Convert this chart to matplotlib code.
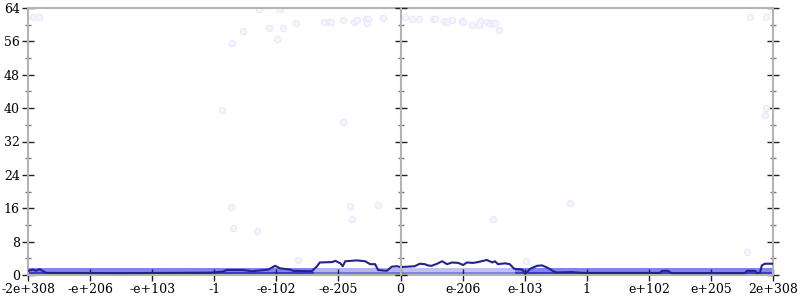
import matplotlib
matplotlib.use("Agg")
import matplotlib.pyplot as plt
import numpy as np

# x positions are in "tick units": -6 .. 6 map to -2e+308 .. 2e+308
tick_pos = [-6, -5, -4, -3, -2, -1, 0, 1, 2, 3, 4, 5, 6]
tick_labels = ["-2e+308", "-e+206", "-e+103", "-1", "-e-102", "-e-205", "0",
               "e-206", "e-103", "1", "e+102", "e+205", "2e+308"]
y_ticks = [0, 8, 16, 24, 32, 40, 48, 56, 64]

# median line
line_x = [-6.0, -5.92, -5.87, -5.81, -5.76, -5.7, -4.5, -3.07, -2.86, -2.80, -2.54, -2.39,
          -2.26, -2.13, -2.02, -1.94, -1.78, -1.73, -1.43, -1.35, -1.30, -1.10, -1.05,
          -0.97, -0.93, -0.89, -0.70, -0.57, -0.49, -0.41, -0.36, -0.22, -0.14, -0.06,
          0.0, 0.23, 0.31, 0.39, 0.44, 0.50, 0.59, 0.67, 0.75, 0.83, 0.93, 1.01, 1.07,
          1.17, 1.25, 1.39, 1.48, 1.52, 1.57, 1.68, 1.76, 1.83, 1.96, 2.01, 2.09, 2.20,
          2.28, 2.36, 2.41, 2.46, 2.52, 2.76, 2.92, 4.18, 4.21, 4.31, 4.36, 5.55, 5.58,
          5.71, 5.74, 5.79, 5.82, 5.87, 6.0]
line_y = [1.0, 1.3, 1.0, 1.4, 0.9, 0.5, 0.45, 0.55, 0.8, 1.2, 1.2, 0.9,
          1.1, 1.3, 2.2, 1.6, 1.3, 1.0, 0.9, 2.0, 3.0, 3.1, 3.4,
          2.8, 2.1, 3.3, 3.5, 3.3, 2.6, 2.6, 1.2, 1.0, 2.0, 2.1,
          1.9, 2.1, 2.7, 2.6, 2.3, 2.2, 2.7, 3.3, 2.6, 3.0, 2.9, 2.4, 3.0,
          2.9, 3.1, 3.6, 3.0, 3.3, 2.6, 2.8, 2.6, 1.5, 1.3, 0.3, 1.5, 2.2,
          2.3, 1.8, 1.4, 0.9, 0.6, 0.7, 0.5, 0.5, 1.0, 1.0, 0.45, 0.45, 1.0,
          1.0, 0.5, 0.5, 2.3, 2.7, 2.7]

# dense band of samples near the bottom (segments)
band_start = [-6.0, -1.4, 0.0, 1.85]
band_end = [-1.4, 0.0, 1.85, 6.0]
band_top = [1.6, 1.6, 1.6, 1.6]
band_alpha = [0.75, 0.45, 0.38, 0.75]

# sparse outlier samples
pts_x = [-5.92, -5.82, -2.28, -1.94, -2.54, -2.12, -1.89, -2.71, -1.99, -1.68, -1.23,
         -1.15, -1.12, -0.93, -0.75, -0.70, -0.56, -0.52, -0.54, -0.28, 0.07, 0.19,
         0.30, 0.52, 0.56, 0.70, 0.75, 0.83, 0.99, 1.01, 1.15, 1.28, 1.26, 1.39, 1.44,
         1.49, 1.52, 1.59, -2.87, -0.93, 5.63, 5.89, 5.89, 5.87, 5.58, 2.73, 1.49,
         2.02, -2.73, -2.70, -2.31, -1.65, -0.81, -0.78, -0.36]
pts_y = [61.8, 61.8, 63.8, 63.8, 58.5, 59.2, 59.2, 55.6, 56.6, 60.4, 60.6,
         60.6, 60.6, 61.1, 60.6, 61.1, 61.4, 61.4, 60.4, 61.6, 61.8, 61.4,
         61.4, 61.4, 61.4, 60.9, 60.6, 61.1, 60.9, 60.6, 59.9, 60.9, 59.9, 60.6, 60.2,
         60.4, 60.4, 58.7, 39.5, 36.7, 61.8, 61.8, 40.0, 38.4, 5.5, 17.3, 13.4,
         3.4, 16.3, 11.3, 10.5, 3.6, 16.5, 13.4, 16.8]

fig = plt.figure(figsize=(8, 3), dpi=100)
L, R, B, T = 28 / 800, 773 / 800, 25 / 300, 292 / 300
ax = fig.add_axes([L, B, R - L, T - B])

serif = "DejaVu Serif"
grey = "#b4b4b4"
navy = "#23238e"

for s, e, top, a in zip(band_start, band_end, band_top, band_alpha):
    ax.fill_between([s, e], 0, top, color="#5a5ae6", alpha=a, lw=0)
    ax.fill_between([s, e], 0, 0.6, color="#2020c8", alpha=a, lw=0)

ax.scatter(pts_x, pts_y, s=20, facecolor="#f5f5ff", edgecolor="#e8e8fc", lw=0.8, zorder=2)
ax.plot(line_x, line_y, color=navy, lw=1.5, zorder=3, solid_joinstyle="round")

ax.set_xlim(-6, 6)
ax.set_ylim(0, 64)
ax.set_xticks(tick_pos)
ax.set_xticklabels(tick_labels, family=serif, fontsize=9)
ax.set_yticks(y_ticks)
ax.set_yticklabels([str(v) for v in y_ticks], family=serif, fontsize=9)
ax.set_yticks(np.arange(4, 64, 8), minor=True)

for sp in ax.spines.values():
    sp.set_color(grey)
    sp.set_linewidth(1.5)

ax.tick_params(axis="both", which="major", direction="inout", length=8, width=1,
               color="#222222", pad=2)
ax.tick_params(axis="y", which="minor", direction="inout", length=4, width=1, color="#777777")
ax.tick_params(axis="y", which="both", right=True)
ax.tick_params(axis="x", which="minor", bottom=False)

# center vertical axis at 0
cx = L + (R - L) * 0.5
cax = fig.add_axes([cx, B, 1e-6, T - B], sharey=ax)
cax.patch.set_visible(False)
for k in ["top", "bottom", "right"]:
    cax.spines[k].set_visible(False)
cax.spines["left"].set_color(grey)
cax.spines["left"].set_linewidth(1.5)
cax.set_xticks([])
cax.tick_params(axis="y", which="major", direction="inout", length=8, width=1,
                color="#222222", labelleft=False)
cax.tick_params(axis="y", which="minor", direction="inout", length=4, width=1,
                color="#777777", labelleft=False)

fig.savefig("out.png", dpi=100)
